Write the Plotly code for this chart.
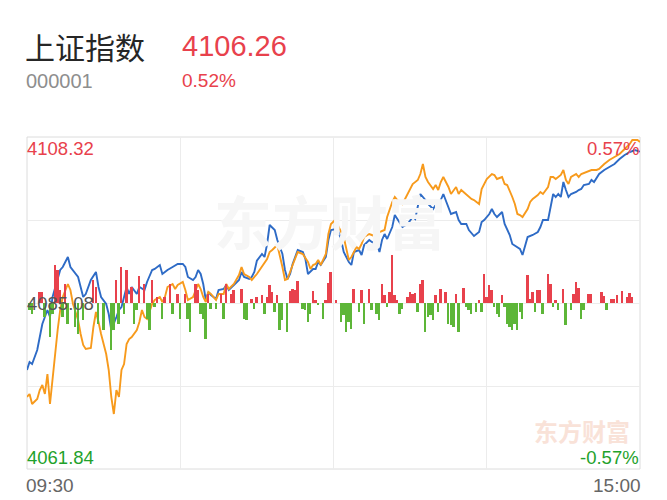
"""Intraday time-sharing chart for 上证指数 (000001)."""

import plotly.graph_objects as go

# ---- header values ----
INDEX_NAME = "上证指数"
INDEX_CODE = "000001"
LAST_PRICE = "4106.26"
LAST_PCT = "0.52%"

PREV_CLOSE = 4085.08
Y_HIGH = 4108.32
Y_LOW = 4061.84
PCT_HIGH = "0.57%"
PCT_LOW = "-0.57%"
TIME_START = "09:30"
TIME_END = "15:00"

# ---- index price (blue), minutes after 09:30 ----
price_min = [
    0, 1, 2, 4, 5, 6, 8, 9, 10, 12, 13, 14, 16, 17, 18, 20, 21, 22, 23, 25,
    27, 28, 29, 31, 32, 33, 35, 36, 37, 39, 40, 41, 43, 44, 46, 47, 49, 50, 52, 53,
    54, 55, 57, 59, 61, 62, 63, 65, 66, 67, 68, 69, 70, 71, 72, 74, 75, 77, 78, 79,
    81, 83, 84, 85, 87, 88, 89, 90, 92, 93, 94, 95, 97, 98, 100, 101, 102, 103, 104, 106,
    108, 109, 110, 112, 113, 114, 115, 117, 118, 119, 121, 122, 123, 124, 126, 127, 128, 130, 131, 132,
    134, 135, 137, 138, 139, 140, 141, 143, 144, 146, 147, 149, 151, 152, 153, 154, 156, 157, 159, 160,
    161, 162, 163, 165, 166, 168, 169, 170, 172, 173, 175, 177, 178, 179, 181, 182, 183, 184, 186, 187,
    189, 190, 192, 193, 194, 196, 198, 200, 201, 202, 204, 205, 206, 207, 208, 209, 210, 211, 212, 213,
    215, 216, 217, 218, 220, 221, 222, 224, 226, 228, 230, 232, 234, 236, 238, 240,
]
price_val = [
    4075.70, 4076.82, 4076.54, 4078.50, 4080.32, 4082.14, 4084.10, 4083.12, 4085.92, 4088.30,
    4089.70, 4090.12, 4091.52, 4090.12, 4089.70, 4088.72, 4087.32, 4085.92, 4086.34, 4088.30,
    4089.42, 4087.32, 4085.92, 4084.94, 4083.54, 4081.30, 4083.12, 4084.10, 4084.52, 4087.32,
    4086.34, 4087.32, 4086.34, 4087.32, 4086.90, 4088.02, 4089.70, 4089.84, 4090.40, 4089.14,
    4089.42, 4089.70, 4090.12, 4090.54, 4090.54, 4090.12, 4088.72, 4088.30, 4088.72, 4089.70,
    4089.14, 4087.74, 4085.50, 4086.62, 4086.20, 4085.64, 4086.90, 4087.04, 4087.60, 4086.90,
    4087.60, 4088.30, 4089.42, 4088.72, 4088.44, 4088.72, 4089.42, 4091.00, 4091.94, 4091.52,
    4093.34, 4096.00, 4095.30, 4093.90, 4091.94, 4089.70, 4088.44, 4089.14, 4090.54, 4092.50,
    4092.22, 4091.24, 4089.14, 4089.84, 4089.84, 4090.82, 4090.40, 4091.52, 4093.90, 4095.30,
    4095.44, 4095.02, 4093.90, 4092.22, 4090.82, 4090.40, 4092.22, 4092.50, 4091.80, 4093.20,
    4093.90, 4093.62, 4093.34, 4092.22, 4093.90, 4094.74, 4094.04, 4095.72, 4097.40, 4096.14,
    4095.72, 4096.14, 4097.12, 4096.84, 4098.52, 4100.34, 4099.50, 4098.94, 4098.24, 4098.80,
    4098.24, 4099.50, 4100.34, 4098.52, 4097.54, 4097.82, 4096.70, 4096.14, 4096.14, 4095.30,
    4094.46, 4095.02, 4096.42, 4096.70, 4097.54, 4098.24, 4097.54, 4097.12, 4097.82, 4096.14,
    4094.60, 4093.34, 4092.92, 4092.64, 4091.80, 4094.32, 4094.60, 4095.02, 4095.72, 4096.70,
    4096.70, 4098.52, 4100.34, 4099.92, 4100.34, 4099.92, 4102.02, 4100.90, 4099.92, 4100.34,
    4100.62, 4100.90, 4101.04, 4101.60, 4101.74, 4102.30, 4102.02, 4103.14, 4103.70, 4104.12,
    4104.54, 4105.24, 4105.80, 4106.22, 4106.50, 4106.26,
]

# ---- average / equal-weight line (orange) ----
avg_min = [
    0, 1, 2, 4, 5, 6, 7, 8, 9, 10, 11, 12, 13, 14, 16, 17, 18, 20, 21, 22,
    23, 25, 26, 27, 28, 29, 31, 32, 33, 34, 35, 36, 37, 38, 39, 40, 41, 43, 44, 45,
    46, 47, 49, 50, 52, 53, 54, 55, 57, 58, 59, 61, 62, 63, 65, 66, 67, 68, 69, 70,
    71, 72, 74, 75, 77, 78, 79, 81, 83, 84, 85, 87, 88, 90, 91, 92, 94, 95, 96, 98,
    99, 100, 101, 102, 104, 106, 108, 110, 111, 112, 113, 114, 115, 117, 118, 119, 121, 122, 124, 125,
    126, 127, 129, 130, 131, 132, 134, 135, 137, 138, 140, 141, 143, 144, 145, 147, 148, 150, 151, 153,
    154, 155, 156, 157, 159, 160, 161, 162, 163, 165, 166, 168, 169, 170, 172, 174, 175, 177, 178, 180,
    182, 183, 184, 186, 187, 188, 190, 191, 192, 193, 194, 196, 197, 198, 200, 201, 202, 204, 205, 206,
    207, 209, 210, 211, 212, 213, 215, 216, 217, 219, 221, 223, 224, 226, 228, 230, 232, 234, 236, 237,
    239, 240,
]
avg_val = [
    4071.92, 4072.34, 4070.94, 4071.64, 4072.90, 4073.60, 4072.34, 4075.14, 4070.94, 4074.30,
    4078.50, 4081.30, 4084.10, 4085.92, 4087.74, 4086.90, 4084.94, 4082.70, 4080.74, 4079.20,
    4078.64, 4078.78, 4081.72, 4083.82, 4082.42, 4080.74, 4077.94, 4075.70, 4071.92, 4069.54,
    4072.90, 4071.92, 4075.70, 4076.54, 4079.34, 4080.04, 4080.32, 4081.30, 4082.42, 4084.10,
    4083.12, 4082.84, 4084.94, 4085.50, 4085.92, 4085.22, 4085.92, 4087.32, 4087.74, 4087.04,
    4087.60, 4088.02, 4086.90, 4085.50, 4085.92, 4086.90, 4087.74, 4087.04, 4085.92, 4085.22,
    4086.62, 4086.34, 4085.50, 4086.34, 4086.34, 4087.74, 4087.04, 4087.74, 4089.00, 4090.12,
    4089.14, 4088.72, 4088.30, 4089.14, 4089.70, 4090.12, 4091.24, 4092.22, 4092.50, 4093.20,
    4091.80, 4090.12, 4088.30, 4088.44, 4090.40, 4092.22, 4091.94, 4090.82, 4089.84, 4090.40,
    4090.54, 4091.10, 4090.40, 4091.94, 4094.74, 4096.14, 4096.84, 4095.72, 4094.32, 4092.64,
    4091.10, 4091.52, 4092.92, 4092.64, 4093.34, 4094.32, 4094.74, 4094.60, 4094.32, 4095.02,
    4095.30, 4097.12, 4099.22, 4099.92, 4099.50, 4098.94, 4099.64, 4101.04, 4101.74, 4102.30,
    4103.14, 4104.54, 4102.72, 4102.02, 4101.04, 4101.60, 4100.90, 4102.02, 4102.72, 4101.32,
    4100.34, 4101.32, 4100.34, 4100.90, 4100.20, 4099.64, 4099.50, 4098.94, 4101.04, 4102.44,
    4103.14, 4103.00, 4102.44, 4102.72, 4101.74, 4101.60, 4099.92, 4098.94, 4097.54, 4097.40,
    4097.12, 4098.24, 4099.22, 4099.64, 4100.20, 4100.62, 4100.34, 4101.32, 4102.72, 4102.72,
    4102.44, 4103.00, 4103.70, 4102.30, 4101.74, 4102.72, 4103.14, 4102.72, 4103.14, 4103.42,
    4103.70, 4103.70, 4103.84, 4104.54, 4105.10, 4105.52, 4105.94, 4106.64, 4107.34, 4107.90,
    4107.90, 4107.62,
]

# ---- buy/sell strength bars around the prev-close line (+ red, - green) ----
flow_min = [
    1, 2, 5, 6, 7, 9, 10, 11, 12, 13, 14, 15, 16, 19, 20, 22, 26, 27, 28, 30,
    33, 34, 35, 36, 37, 38, 39, 41, 42, 43, 44, 46, 47, 48, 49, 50, 51, 53, 54, 56,
    57, 59, 60, 62, 63, 64, 66, 67, 68, 69, 70, 71, 72, 74, 76, 77, 78, 80, 81, 84,
    85, 86, 88, 89, 90, 92, 93, 94, 95, 96, 97, 98, 99, 100, 102, 103, 104, 105, 106, 108,
    109, 110, 111, 112, 113, 114, 116, 117, 118, 119, 121, 123, 124, 125, 126, 127, 128, 130, 131, 132,
    134, 135, 137, 138, 139, 140, 141, 142, 143, 144, 145, 146, 147, 149, 150, 151, 152, 153, 154, 155,
    156, 157, 158, 159, 160, 161, 162, 164, 165, 166, 167, 168, 169, 171, 172, 173, 174, 176, 177, 178,
    179, 180, 181, 182, 183, 184, 185, 186, 187, 188, 189, 190, 191, 192, 193, 194, 196, 197, 198, 199,
    200, 201, 202, 204, 205, 206, 207, 208, 210, 211, 213, 214, 215, 216, 217, 218, 220, 221, 225, 226,
    227, 229, 230, 231, 233, 235, 236, 237,
]
flow_val = [
    -7, -11, 11, 11, -14, -34, -11, 38, 33, 13, -14, 19, -21, -24, -31, -17, 23, 16, -21, -27,
    -47, -27, 23, -21, 36, -11, 33, 16, -21, -7, 27, 19, -16, -27, 23, -4, 6, -16, 6, 19,
    -11, 9, -16, 9, -16, -29, 19, 13, -11, -16, -36, 9, -6, -6, 9, -16, 19, 9, 13, 14,
    -16, -17, 4, -6, 6, 8, -11, 6, 18, 11, -9, 8, -27, -17, -29, 12, 14, 13, 22, -6,
    -7, -19, -11, 12, 3, -2, -16, 3, 20, 31, 3, -19, -12, -29, -19, -26, 14, -9, 13, -21,
    14, -7, -11, -17, 19, 8, -4, 11, 48, 8, 3, -11, -6, 6, 11, 9, 10, -9, 19, 23,
    -29, -14, -12, -17, 8, -9, 14, 11, -21, -22, -24, 9, -29, 15, -4, -7, -11, -9, 3, -9,
    29, 6, 18, 13, -4, -11, -14, 8, -4, -21, -24, -27, -21, -27, -9, -16, 28, 4, 11, -9,
    13, 13, -11, 29, 19, -4, 3, -7, 14, -22, -7, 9, 21, 15, -16, -7, 9, 9, 11, 7,
    -7, 4, 4, 8, 12, 6, 10, 6,
]

RED = "#e8414c"
GREEN = "#5db638"
BLUE = "#2e6bc6"
ORANGE = "#f79a1c"
GRAY_TXT = "#8e8e8e"

# the page body has an 8px margin, so the figure starts at (8, 8) on the page
OFF = 8
W, H = 667, 500
X0, X1 = 27 - OFF, 640 - OFF   # plot area in figure pixels
Y0, Y1 = 137 - OFF, 469 - OFF


def paper(px, py):
    """Page pixel -> paper coordinates."""
    fx, fy = px - OFF, py - OFF
    return (fx - X0) / (X1 - X0), (Y1 - fy) / (Y1 - Y0)


fig = go.Figure()

fig.add_trace(
    go.Bar(
        x=flow_min,
        y=flow_val,
        marker=dict(color=[RED if v > 0 else GREEN for v in flow_val], line_width=0),
        width=0.75,
        yaxis="y2",
        hoverinfo="skip",
    )
)
fig.add_trace(
    go.Scatter(x=price_min, y=price_val, mode="lines",
               line=dict(color=BLUE, width=1.9), name="指数")
)
fig.add_trace(
    go.Scatter(x=avg_min, y=avg_val, mode="lines",
               line=dict(color=ORANGE, width=1.9), name="均价")
)

quarter = (Y_HIGH - Y_LOW) / 4
fig.update_layout(
    width=W,
    height=H,
    showlegend=False,
    plot_bgcolor="white",
    paper_bgcolor="white",
    margin=dict(l=X0, r=W - X1, t=Y0, b=H - Y1, autoexpand=False),
    bargap=0,
    xaxis=dict(
        range=[0, 240], tickvals=[60, 120, 180], showticklabels=False,
        showgrid=True, gridcolor="#ececec", gridwidth=1, zeroline=False,
        showline=False, fixedrange=True,
    ),
    yaxis=dict(
        range=[Y_LOW, Y_HIGH],
        tickvals=[Y_LOW + quarter, PREV_CLOSE, Y_HIGH - quarter],
        showticklabels=False, showgrid=True, gridcolor="#ececec",
        zeroline=False, showline=False,
    ),
    yaxis2=dict(
        range=[-166, 166], overlaying="y", showgrid=False,
        showticklabels=False, zeroline=False,
    ),
)

# plot frame
fig.add_shape(type="rect", xref="paper", yref="paper", x0=0, x1=1, y0=0, y1=1,
              line=dict(color="#dcdcdc", width=1), layer="below")

num_font = "Liberation Sans, Arial, sans-serif"
cjk_font = "Noto Sans CJK SC, sans-serif"


def label(text, px, py, size, color, anchor="left", font=num_font):
    x, y = paper(px, py)
    fig.add_annotation(
        text=text, x=x, y=y, xref="paper", yref="paper", showarrow=False,
        xanchor=anchor, yanchor="middle",
        font=dict(size=size, color=color, family=font),
    )


# watermarks
label("<b>东方财富</b>", 330, 220, 58, "#f6f6f6", anchor="center", font=cjk_font)
label("<b>东方财富</b>", 582, 430, 24, "#f9e2d8", anchor="center", font=cjk_font)

# header
label(INDEX_NAME, 23, 46, 30, "#262626", font=cjk_font)
label(LAST_PRICE, 180, 46, 29, RED)
label(INDEX_CODE, 24, 81, 20, GRAY_TXT)
label(LAST_PCT, 180, 81, 19, RED)

# axis labels
label(f"{Y_HIGH:.2f}", 25, 148, 18.5, RED)
label(f"{PREV_CLOSE:.2f}", 25, 303, 18.5, "#555555")
label(f"{Y_LOW:.2f}", 25, 457, 18.5, "#1fa22b")
label(PCT_HIGH, 641, 148, 18.5, RED, anchor="right")
label(PCT_LOW, 641, 457, 18.5, "#1fa22b", anchor="right")
label(TIME_START, 24, 485, 19, "#666666")
label(TIME_END, 643, 485, 19, "#666666", anchor="right")

fig.write_html("out.html")
